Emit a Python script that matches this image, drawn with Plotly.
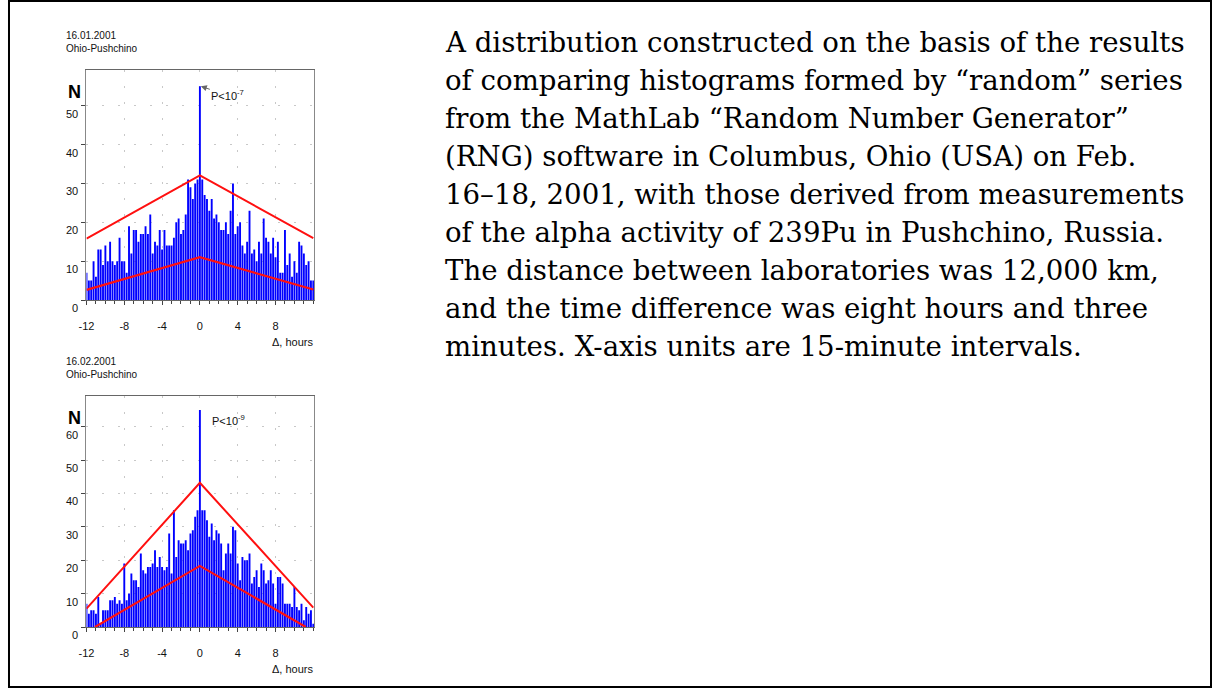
import plotly.graph_objects as go

W, H = 1212, 689

def fx(px):
    return px / W

def fy(py):
    return 1 - py / H

# ---------------- data ----------------
# shift of histograms in 15-minute steps (-48 .. +48), shown in hours
shift_steps = list(range(-48, 49))
shift_hours = [s * 0.25 for s in shift_steps]

# Chart 1: 16.01.2001  Ohio-Pushchino
counts_jan = [
    7, 5, 5, 10, 6, 13, 13, 9, 14, 10, 15, 10, 9, 10, 16, 10,
    10, 7, 19, 12, 18, 18, 15, 17, 17, 19, 17, 22, 12, 15, 14, 18,
    13, 18, 14, 14, 14, 16, 20, 21, 17, 18, 22, 31, 29, 26, 30, 31,
    55,
    31, 27, 26, 23, 26, 21, 22, 20, 18, 18, 20, 17, 23, 30, 17, 19,
    20, 14, 12, 15, 23, 12, 13, 10, 15, 12, 21, 16, 15, 12, 16, 11,
    15, 7, 7, 18, 9, 12, 6, 10, 7, 15, 14, 12, 9, 10, 5, 5,
]
upper_jan_x = [-12, 0, 12]
upper_jan_y = [15.8, 32.1, 15.9]
lower_jan_x = [-12, 0, 12]
lower_jan_y = [2.6, 11.0, 2.7]

# Chart 2: 16.02.2001  Ohio-Pushchino
counts_feb = [
    7, 4, 5, 5, 4, 9, 1, 5, 5, 5, 8, 8, 9, 7, 8, 7,
    19, 8, 10, 16, 14, 14, 12, 22, 17, 16, 18, 18, 19, 23, 18, 21,
    18, 17, 18, 28, 16, 35, 21, 26, 25, 25, 26, 23, 28, 29, 33, 35,
    65,
    35, 35, 32, 27, 31, 26, 29, 28, 25, 17, 22, 25, 22, 30, 29, 19,
    14, 21, 20, 20, 22, 13, 15, 17, 12, 19, 17, 13, 14, 17, 13, 7,
    15, 15, 13, 7, 7, 7, 6, 12, 6, 5, 7, 2, 6, 4, 5, 1,
]
upper_feb_x = [-12, 0, 12]
upper_feb_y = [5.5, 43.2, 5.8]
lower_feb_x = [-11.1, 0, 11.2]
lower_feb_y = [0, 18.3, 0]

x_tick_vals = [-12, -8, -4, 0, 4, 8]
x_tick_text = ["-12", "-8", "-4", "0", "4", "8"]
y_ticks_jan = [0, 10, 20, 30, 40, 50]
y_ticks_feb = [0, 10, 20, 30, 40, 50, 60]

chart_dates = ["16.01.2001", "16.02.2001"]
chart_site = "Ohio-Pushchino"
p_labels = ["P<10<sup>-7</sup>", "P<10<sup>-9</sup>"]
x_title = "Δ, hours"
y_title = "N"

caption_lines = [
    "A distribution constructed on the basis of the results",
    "of comparing histograms formed by \u201crandom\u201d series",
    "from the MathLab \u201cRandom Number Generator\u201d",
    "(RNG) software in Columbus, Ohio (USA) on Feb.",
    "16\u201318, 2001, with those derived from measurements",
    "of the alpha activity of 239Pu in Pushchino, Russia.",
    "The distance between laboratories was 12,000 km,",
    "and the time difference was eight hours and three",
    "minutes. X-axis units are 15-minute intervals.",
]

# ---------------- figure ----------------
BLUE = "#0000FF"
RED = "#FF1010"
SANS = "Liberation Sans, Arial, sans-serif"
SERIF = "DejaVu Serif, serif"

fig = go.Figure()

panels = [
    dict(counts=counts_jan, ux=upper_jan_x, uy=upper_jan_y, lx=lower_jan_x, ly=lower_jan_y,
         xa="x", ya="y", top=70, bottom=300, yrange=[0, 59.2], yticks=y_ticks_jan),
    dict(counts=counts_feb, ux=upper_feb_x, uy=upper_feb_y, lx=lower_feb_x, ly=lower_feb_y,
         xa="x2", ya="y2", top=396, bottom=627, yrange=[0, 69.2], yticks=y_ticks_feb),
]

for p in panels:
    fig.add_trace(go.Bar(x=shift_hours, y=p["counts"], marker=dict(color=BLUE, line=dict(width=0)),
                         xaxis=p["xa"], yaxis=p["ya"], showlegend=False, hoverinfo="skip"))
    fig.add_trace(go.Scatter(x=p["ux"], y=p["uy"], mode="lines", line=dict(color=RED, width=2),
                             xaxis=p["xa"], yaxis=p["ya"], showlegend=False, hoverinfo="skip"))
    fig.add_trace(go.Scatter(x=p["lx"], y=p["ly"], mode="lines", line=dict(color=RED, width=2.2),
                             xaxis=p["xa"], yaxis=p["ya"], showlegend=False, hoverinfo="skip"))

X_LEFT, X_RIGHT = 79, 308

def xaxis_cfg(anchor):
    return dict(
        domain=[fx(X_LEFT), fx(X_RIGHT)], anchor=anchor, range=[-12, 12.07],
        tickmode="array", tickvals=x_tick_vals, ticktext=x_tick_text,
        ticks="outside", ticklen=4, tickcolor="#444", ticklabelstandoff=12,
        minor=dict(dtick=1, tick0=-12, ticks="outside", ticklen=3, tickcolor="#444", showgrid=False),
        showline=True, linecolor="#666", linewidth=1, mirror=True,
        showgrid=True, gridcolor="#c8c8c8", griddash="2px,14px", gridwidth=1,
        zeroline=False, tickfont=dict(family=SANS, size=11, color="#111"),
    )

def yaxis_cfg(anchor, p):
    return dict(
        domain=[fy(p["bottom"]), fy(p["top"])], anchor=anchor, range=p["yrange"],
        tickmode="array", tickvals=p["yticks"], ticks="outside", ticklen=4, tickcolor="#444",
        showticklabels=False,
        showline=True, linecolor="#888", linewidth=1, mirror=True,
        showgrid=True, gridcolor="#c8c8c8", griddash="2px,14px", gridwidth=1,
        zeroline=False,
    )

annotations = []
for i, p in enumerate(panels):
    # y tick labels (drawn slightly below their ticks, as in the original)
    for v in p["yticks"]:
        annotations.append(dict(xref="paper", yref=p["ya"], x=fx(72), y=v, yshift=-8,
                                text=str(v), showarrow=False, xanchor="right", yanchor="middle",
                                font=dict(family=SANS, size=11, color="#111")))
    # chart titles
    annotations.append(dict(xref="paper", yref="paper", x=fx(56), y=fy(p["top"] - 35),
                            text=chart_dates[i], showarrow=False, xanchor="left", yanchor="middle",
                            font=dict(family=SANS, size=10, color="#111")))
    annotations.append(dict(xref="paper", yref="paper", x=fx(56), y=fy(p["top"] - 21),
                            text=chart_site, showarrow=False, xanchor="left", yanchor="middle",
                            font=dict(family=SANS, size=10, color="#111")))
    # N label
    annotations.append(dict(xref="paper", yref="paper", x=fx(67), y=fy(p["top"] + 22),
                            text="<b>" + y_title + "</b>", showarrow=False, xanchor="center", yanchor="middle",
                            font=dict(family=SANS, size=18, color="#000")))
    # x title
    annotations.append(dict(xref="paper", yref="paper", x=fx(309), y=fy(p["bottom"] + 42),
                            text=x_title, showarrow=False, xanchor="right", yanchor="middle",
                            font=dict(family=SANS, size=11, color="#111")))

# P annotations
annotations.append(dict(xref="x", yref="y", x=0.1, y=counts_jan[48], text=p_labels[0],
                        showarrow=True, ax=27, ay=9, arrowhead=2, arrowsize=1.2, arrowwidth=1,
                        arrowcolor="#666", xanchor="center", yanchor="middle",
                        font=dict(family=SANS, size=11, color="#111")))
annotations.append(dict(xref="paper", yref="paper", x=fx(203), y=fy(420), text=p_labels[1],
                        showarrow=False, xanchor="left", yanchor="middle",
                        font=dict(family=SANS, size=11, color="#111")))

# caption
for k, line in enumerate(caption_lines):
    annotations.append(dict(xref="paper", yref="paper", x=fx(438), y=fy(42 + 38.1 * k),
                            text=line, showarrow=False, xanchor="left", yanchor="middle",
                            font=dict(family=SERIF, size=27.6, color="#000")))

fig.update_layout(
    width=W, height=H,
    margin=dict(l=0, r=0, t=0, b=0),
    paper_bgcolor="white", plot_bgcolor="white",
    bargap=0.2,
    xaxis=xaxis_cfg("y"), yaxis=yaxis_cfg("x", panels[0]),
    xaxis2=xaxis_cfg("y2"), yaxis2=yaxis_cfg("x2", panels[1]),
    annotations=annotations,
    shapes=[dict(type="rect", xref="paper", yref="paper", x0=fx(1), x1=fx(1211), y0=fy(687), y1=fy(1),
                 line=dict(color="#000", width=2))],
)

fig.write_html(
    "out.html",
    config={"displayModeBar": False, "staticPlot": True},
    post_script=(
        "document.documentElement.style.margin='0';"
        "document.body.style.margin='0';document.body.style.overflow='hidden';"
        "var g=document.querySelector('.plotly-graph-div');"
        "g.style.position='fixed';g.style.left='0px';g.style.top='0px';"
    ),
)
